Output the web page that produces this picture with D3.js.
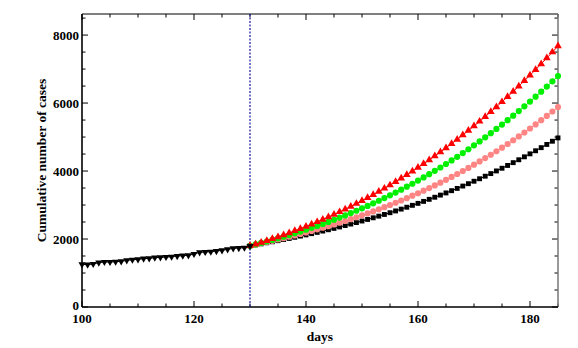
<!DOCTYPE html>
<html>
<head>
<meta charset="utf-8">
<script src="https://cdn.jsdelivr.net/npm/d3@7"></script>
<style>
  body { margin: 0; background: #fff; }
  text { font-family: "Liberation Serif", "Times New Roman", serif; font-weight: bold; }
</style>
</head>
<body>
<div id="chart-container"></div>
<script>
// observed cumulative cases, day 100 .. 130
const observedDays = d3.range(100, 131);
const observed = [1255, 1245, 1265, 1304, 1324, 1324, 1333, 1343, 1373, 1392, 1402,
    1422, 1431, 1451, 1461, 1471, 1480, 1500, 1510, 1520, 1559, 1608, 1618, 1627,
    1647, 1667, 1696, 1725, 1735, 1745, 1794];

// projections, day 130 .. 185
const projDays = d3.range(130, 186);
const redProj = [1800, 1849, 1900, 1952, 2006, 2062, 2120, 2179, 2241, 2304, 2369,
    2435, 2504, 2575, 2648, 2722, 2799, 2878, 2959, 3042, 3127, 3214, 3304, 3396,
    3490, 3586, 3685, 3786, 3889, 3995, 4103, 4213, 4327, 4442, 4560, 4681, 4804,
    4930, 5059, 5190, 5324, 5461, 5600, 5742, 5887, 6035, 6186, 6339, 6496, 6655,
    6818, 6983, 7152, 7323, 7498, 7676];
const greenProj = [1800, 1841, 1884, 1928, 1973, 2019, 2067, 2117, 2167, 2220, 2273,
    2329, 2386, 2444, 2504, 2566, 2630, 2695, 2762, 2831, 2902, 2975, 3049, 3126,
    3204, 3285, 3367, 3452, 3539, 3627, 3718, 3812, 3907, 4005, 4105, 4207, 4312,
    4419, 4529, 4641, 4755, 4872, 4992, 5114, 5239, 5366, 5496, 5629, 5765, 5903,
    6044, 6189, 6336, 6485, 6638, 6794];
const pinkProj = [1800, 1836, 1872, 1909, 1947, 1985, 2025, 2066, 2107, 2150, 2193,
    2238, 2284, 2331, 2379, 2429, 2479, 2531, 2585, 2640, 2696, 2754, 2813, 2874,
    2937, 3001, 3066, 3134, 3203, 3274, 3347, 3422, 3499, 3577, 3658, 3741, 3826,
    3912, 4001, 4093, 4186, 4282, 4380, 4480, 4583, 4688, 4796, 4906, 5019, 5134,
    5252, 5372, 5496, 5622, 5751, 5882];
const blackProj = [1800, 1829, 1858, 1889, 1919, 1951, 1984, 2017, 2051, 2086, 2121,
    2158, 2195, 2234, 2273, 2313, 2355, 2397, 2440, 2484, 2530, 2576, 2624, 2673,
    2723, 2774, 2826, 2880, 2935, 2991, 3049, 3107, 3168, 3229, 3292, 3356, 3422,
    3489, 3558, 3628, 3700, 3773, 3848, 3925, 4003, 4082, 4164, 4247, 4332, 4418,
    4506, 4596, 4688, 4782, 4877, 4975];

const xTicks = [100, 120, 140, 160, 180];
const yTicks = [0, 2000, 4000, 6000, 8000];
const cutDay = 130;

const width = 578;
const height = 348;
const margin = { top: 14, right: 20, bottom: 41, left: 82 };

const xScale = d3.scaleLinear()
    .domain([100, 185])
    .range([margin.left, width - margin.right]);

const yScale = d3.scaleLinear()
    .domain([0, 8620])
    .range([height - margin.bottom, margin.top]);

const svg = d3.select("#chart-container")
    .append("svg")
    .attr("width", width)
    .attr("height", height);

// ticks pointing inward on all four sides (mathematica style frame)
const xMinor = d3.range(100, 186, 5);
const yMinor = d3.range(0, 8620, 500);
const x0 = xScale.range()[0], x1 = xScale.range()[1];
const y0 = yScale.range()[0], y1 = yScale.range()[1];

const tickG = svg.append("g").attr("stroke", "#000").attr("stroke-width", 1);
xMinor.forEach(d => {
    const len = xTicks.includes(d) ? 6 : 3.5;
    tickG.append("line").attr("x1", xScale(d)).attr("x2", xScale(d))
        .attr("y1", y0).attr("y2", y0 - len);
    tickG.append("line").attr("x1", xScale(d)).attr("x2", xScale(d))
        .attr("y1", y1).attr("y2", y1 + len);
});
yMinor.forEach(d => {
    const len = yTicks.includes(d) ? 6 : 3.5;
    tickG.append("line").attr("y1", yScale(d)).attr("y2", yScale(d))
        .attr("x1", x0).attr("x2", x0 + len);
    tickG.append("line").attr("y1", yScale(d)).attr("y2", yScale(d))
        .attr("x1", x1).attr("x2", x1 - len);
});

// frame
svg.append("line").attr("x1", x0).attr("x2", x1).attr("y1", y1).attr("y2", y1)
    .attr("stroke", "#000").attr("stroke-width", 1);
svg.append("line").attr("x1", x1).attr("x2", x1).attr("y1", y1).attr("y2", y0)
    .attr("stroke", "#777").attr("stroke-width", 1.5);
svg.append("line").attr("x1", x0).attr("x2", x1).attr("y1", y0).attr("y2", y0)
    .attr("stroke", "#000").attr("stroke-width", 1.6);
svg.append("line").attr("x1", x0).attr("x2", x0).attr("y1", y1).attr("y2", y0)
    .attr("stroke", "#000").attr("stroke-width", 1.6);

// tick labels
svg.selectAll(".x-label")
    .data(xTicks)
    .enter()
    .append("text")
    .attr("class", "x-label")
    .attr("x", d => xScale(d))
    .attr("y", y0 + 16)
    .attr("text-anchor", "middle")
    .style("font-size", "13px")
    .text(d => d);

svg.selectAll(".y-label")
    .data(yTicks)
    .enter()
    .append("text")
    .attr("class", "y-label")
    .attr("x", x0 - 3)
    .attr("y", d => yScale(d) + (d === 0 ? 3 : 4.5)) // the 0 sits a bit higher, on top of "100"
    .attr("text-anchor", "end")
    .style("font-size", "13px")
    .text(d => d);

// axis titles
svg.append("text")
    .attr("x", (x0 + x1) / 2)
    .attr("y", 341)
    .attr("text-anchor", "middle")
    .style("font-size", "13.5px")
    .text("days");

svg.append("text")
    .attr("transform", `translate(46, ${(y0 + y1) / 2}) rotate(-90)`)
    .attr("text-anchor", "middle")
    .style("font-size", "13.5px")
    .text("Cumulative number of cases");

// vertical dotted line at the cut day
svg.append("line")
    .attr("x1", xScale(cutDay)).attr("x2", xScale(cutDay))
    .attr("y1", y1).attr("y2", y0)
    .attr("stroke", "#2a2aa8")
    .attr("stroke-width", 1.3)
    .attr("stroke-dasharray", "2,1.5");

const drawSeries = (days, values, color, symbol, size, rotate) => {
    const pts = days.map((d, i) => [xScale(d), yScale(values[i])]);
    svg.append("path")
        .attr("d", d3.line()(pts))
        .attr("fill", "none")
        .attr("stroke", color)
        .attr("stroke-width", 1);
    svg.append("g")
        .selectAll("path")
        .data(pts)
        .enter()
        .append("path")
        .attr("d", d3.symbol().type(symbol).size(size))
        .attr("transform", p => `translate(${p[0]}, ${p[1]}) rotate(${rotate})`)
        .attr("fill", color);
};

drawSeries(projDays, blackProj, "#000", d3.symbolSquare, 24, 0);
drawSeries(projDays, pinkProj, "#ff8585", d3.symbolCircle, 30, 0);
drawSeries(projDays, greenProj, "#00f000", d3.symbolCircle, 30, 0);
drawSeries(projDays, redProj, "#ff0000", d3.symbolTriangle, 26, 0);
drawSeries(observedDays, observed, "#000", d3.symbolTriangle, 22, 180);
</script>
</body>
</html>
